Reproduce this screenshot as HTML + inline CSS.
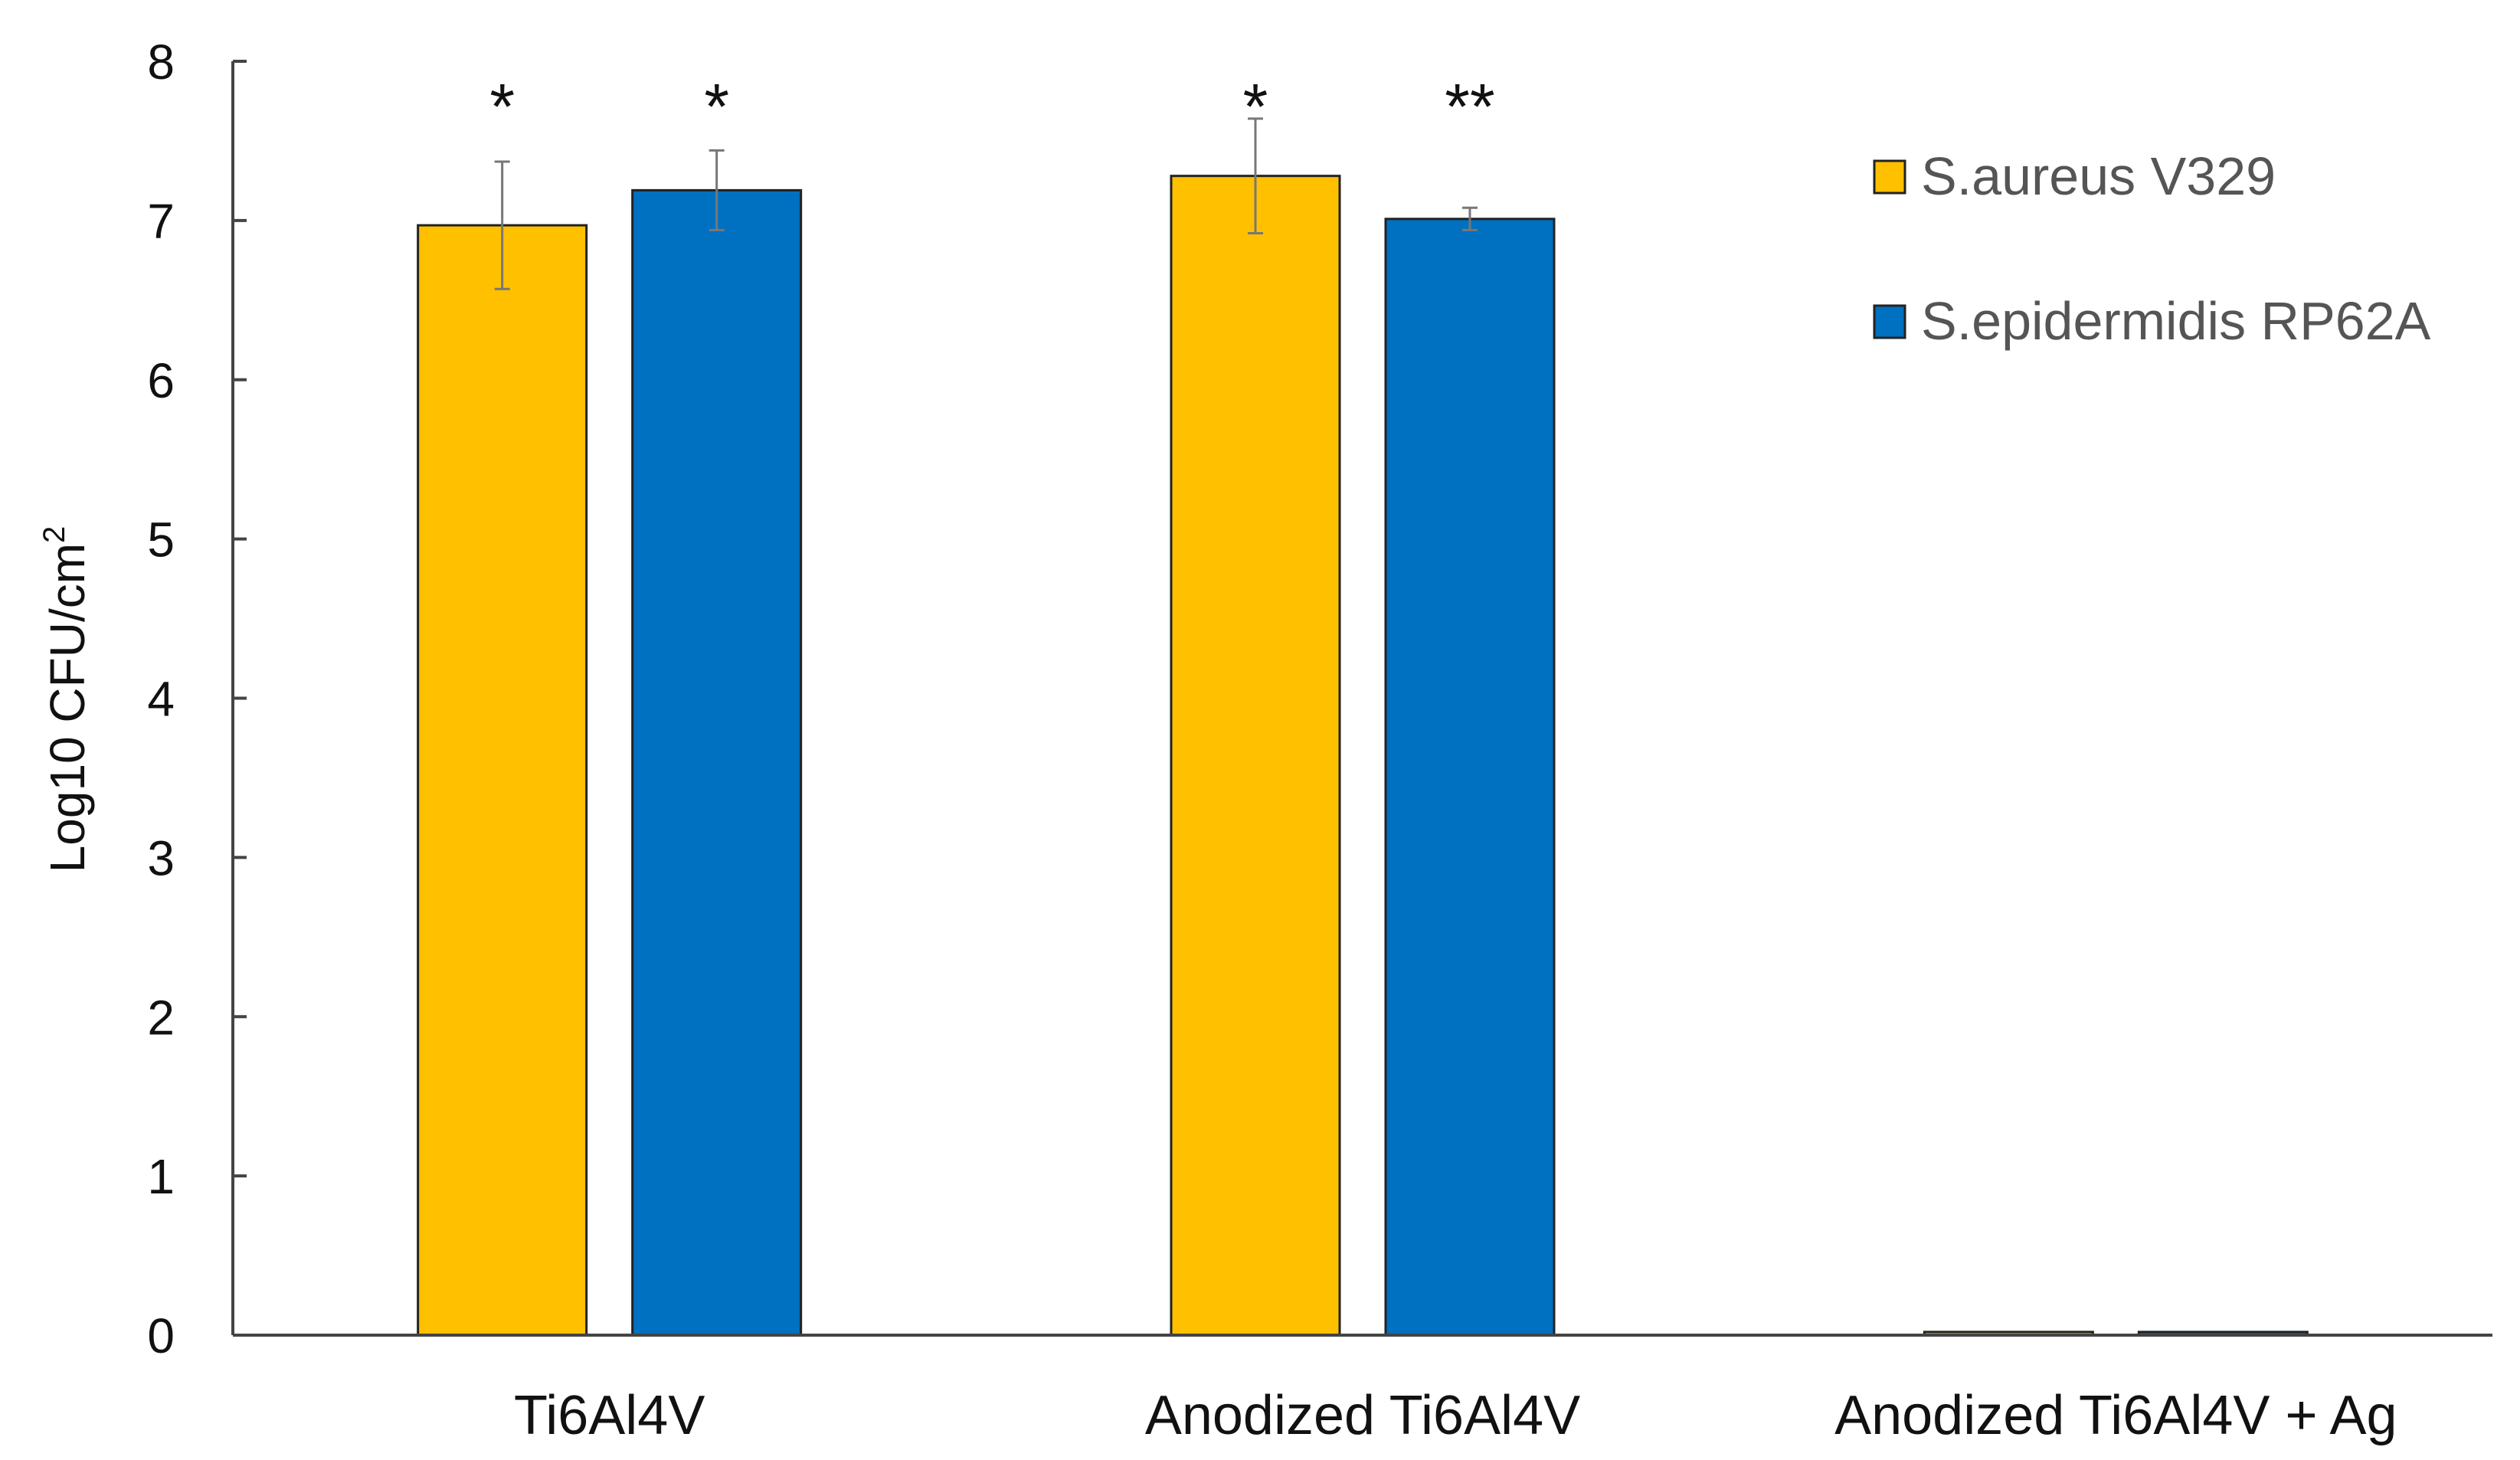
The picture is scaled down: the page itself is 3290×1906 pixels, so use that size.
<!DOCTYPE html>
<html><head><meta charset="utf-8"><style>
html,body{margin:0;padding:0;background:#fff;}
svg{display:block;font-family:"Liberation Sans",Calibri,sans-serif;}
</style></head><body>
<svg id="chart" width="3290" height="1906" viewBox="0 0 3290 1906" xmlns="http://www.w3.org/2000/svg"></svg>
<script>
const categories = ["Ti6Al4V", "Anodized Ti6Al4V", "Anodized Ti6Al4V + Ag"];
const seriesNames = ["S.aureus V329", "S.epidermidis RP62A"];
const aureusValues = [6.97, 7.28, 0.02];
const epidermidisValues = [7.19, 7.01, 0.02];
const aureusErrors = [0.40, 0.36, 0];
const epidermidisErrors = [0.25, 0.07, 0];
const aureusStars = ["*", "*", ""];
const epidermidisStars = ["*", "**", ""];
const yTicks = [0, 1, 2, 3, 4, 5, 6, 7, 8];

const NS = "http://www.w3.org/2000/svg";
const svg = document.getElementById("chart");
const X0 = 304, X1 = 3254, Y0 = 1743, Y8 = 80;
const yMax = 8;
function yScale(v){ return Y0 - (v / yMax) * (Y0 - Y8); }
const catW = (X1 - X0) / categories.length;
function xCenter(i){ return X0 + catW * (i + 0.5); }
const barW = 220, barOff = 140;
function el(tag, attrs, text){
  const e = document.createElementNS(NS, tag);
  for (const k in attrs) e.setAttribute(k, attrs[k]);
  if (text !== undefined) e.textContent = text;
  svg.appendChild(e);
  return e;
}
let ax = el("line", {x1:X0, y1:Y8, x2:X0, y2:Y0, stroke:"#444", "stroke-width":4});


yTicks.forEach(t => {
  const y = yScale(t);
  const tk = el("line", {x1:X0, y1:y, x2:X0+18, y2:y, stroke:"#444", "stroke-width":4});
  
  
  const lb = el("text", {x:228, y:y+23, "text-anchor":"end", "font-size":64, fill:"#111"}, String(t));
  
  
});
const yt = el("text", {x:0, y:0, transform:"translate(110,913) rotate(-90)", "text-anchor":"middle", "font-size":64, fill:"#111"}, "Log10 CFU/cm");


const sup = document.createElementNS(NS, "tspan");
sup.setAttribute("font-size", 40);
sup.setAttribute("dy", -26);
sup.textContent = "2";
yt.appendChild(sup);

function drawSeries(vals, errs, stars, off, color, name){
  vals.forEach((v, i) => {
    const x = xCenter(i) + off - barW/2;
    const y = yScale(v);
    const r = el("rect", {x:x, y:y, width:barW, height:Math.max(Y0 - y, 2), fill:color, stroke:"#222", "stroke-width":3});
    
    
    const cx = xCenter(i) + off;
    if (errs[i] > 0){
      const e = el("path", {d:"M"+cx+" "+yScale(v+errs[i])+"V"+yScale(v-errs[i])+"M"+(cx-10)+" "+yScale(v+errs[i])+"H"+(cx+10)+"M"+(cx-10)+" "+yScale(v-errs[i])+"H"+(cx+10), stroke:"#777", "stroke-width":3, fill:"none"});
      
      
    }
    if (stars[i]){
      const s = el("text", {x:cx, y:168, "text-anchor":"middle", "font-size":84, fill:"#111"}, stars[i]);
      
      
    }
  });
}
drawSeries(aureusValues, aureusErrors, aureusStars, -barOff, "#FFC000", "aureus");
drawSeries(epidermidisValues, epidermidisErrors, epidermidisStars, barOff, "#0070C0", "epidermidis");

const xa = el("line", {x1:X0, y1:Y0, x2:X1, y2:Y0, stroke:"#444", "stroke-width":4});


categories.forEach((c, i) => {
  const t = el("text", {x:xCenter(i), y:1872, "text-anchor":"middle", "font-size":72, fill:"#111"}, c);
  
  
});
const legColors = ["#FFC000", "#0070C0"];
seriesNames.forEach((n, i) => {
  const ly = 210 + i * 189;
  const s = el("rect", {x:2447, y:ly, width:40, height:42, fill:legColors[i], stroke:"#222", "stroke-width":3});
  
  
  const t = el("text", {x:2508, y:ly+44, "font-size":70, fill:"#555"}, n);
  
  
});
</script>
</body></html>
